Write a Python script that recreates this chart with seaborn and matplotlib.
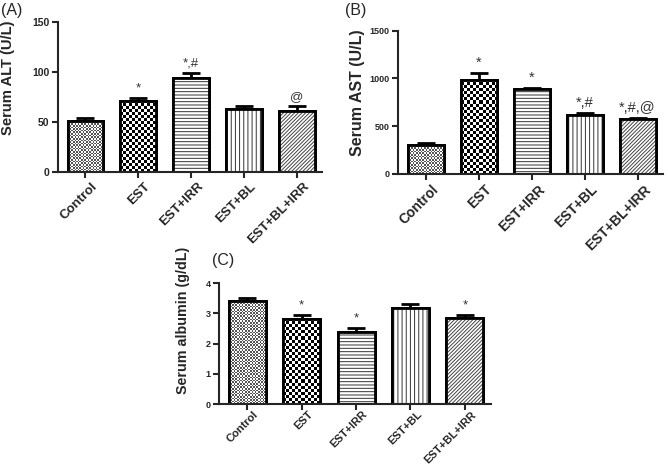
import numpy as np
import pandas as pd
import matplotlib
matplotlib.use("Agg")
import matplotlib.pyplot as plt
import matplotlib.transforms as mtransforms
import seaborn as sns

groups = ["Control", "EST", "EST+IRR", "EST+BL", "EST+BL+IRR"]

alt_mean = [51, 71, 94, 63, 61]
alt_err = [3, 3, 5, 2.5, 5]
alt_marks = ["", "*", "*,#", "", "@"]

ast_mean = [304, 984, 890, 618, 579]
ast_err = [22, 73, 10, 24, 10]
ast_marks = ["", "*", "*", "*,#", "*,#,@"]

alb_mean = [3.41, 2.82, 2.39, 3.17, 2.85]
alb_err = [0.09, 0.12, 0.12, 0.13, 0.10]
alb_marks = ["", "*", "*", "", "*"]

sns.set_style("ticks")
plt.rcParams["font.family"] = ["Liberation Sans", "DejaVu Sans"]
plt.rcParams["hatch.linewidth"] = 0.7

W, H = 668, 467
fig = plt.figure(figsize=(W / 100, H / 100), dpi=100)


def checker(ax, patch, cell_px, color):
    # checkerboard fill clipped to a bar
    x0, w, h = patch.get_x(), patch.get_width(), patch.get_height()
    p0 = ax.transData.transform((x0, 0))
    p1 = ax.transData.transform((x0 + w, h))
    nc = max(1, int(round((p1[0] - p0[0]) / cell_px)))
    nr = max(1, int(round((p1[1] - p0[1]) / cell_px)))
    grid = (np.add.outer(np.arange(nr), np.arange(nc)) % 2).astype(float)
    rgba = np.ones((nr, nc, 4))
    rgba[grid == 1] = matplotlib.colors.to_rgba(color)
    im = ax.imshow(rgba, extent=(x0, x0 + w, 0, h), origin="lower",
                   interpolation="nearest", aspect="auto", zorder=2.1)
    im.set_clip_path(patch)


def hatch_fill(ax, patch, hatch, color):
    ax.add_patch(plt.Rectangle((patch.get_x(), 0), patch.get_width(), patch.get_height(),
                               facecolor="white", edgecolor=color, linewidth=0,
                               hatch=hatch, zorder=2.1))


def panel(rect, means, errs, marks, ylim, yticks, ylabel, ylab_fs, label_xy, tag, tag_xy,
          mark_off, mark_fs, ytick_fs, xtick_fs, xtick_dy):
    ax = fig.add_axes(rect)
    df = pd.DataFrame({"group": groups, "value": means})
    sns.barplot(data=df, x="group", y="value", color="white", edgecolor="black",
                linewidth=2, width=0.68, errorbar=None, ax=ax, zorder=2)
    ax.set_xlim(-0.52, 4.48)
    ax.set_ylim(*ylim)
    ax.set_yticks(yticks)
    patches = list(ax.patches)
    checker(ax, patches[0], 1.6, "#555555")
    checker(ax, patches[1], 3.0, "black")
    hatch_fill(ax, patches[2], "-----", "#333333")
    hatch_fill(ax, patches[3], "||||", "#333333")
    hatch_fill(ax, patches[4], "/////////", "#444444")
    for p in patches:
        ax.add_patch(plt.Rectangle((p.get_x(), 0), p.get_width(), p.get_height(), fill=False,
                                   edgecolor="black", linewidth=2, zorder=2.2))
    x = np.arange(len(groups))
    ax.errorbar(x, means, yerr=[np.zeros(len(errs)), errs], fmt="none", ecolor="black",
                elinewidth=2, capsize=6.5, capthick=2, zorder=1)
    for xi, m, e, t in zip(x, means, errs, marks):
        if t:
            ax.text(xi, m + e + mark_off, t, ha="center", va="bottom", fontsize=mark_fs,
                    color="#333333")
    sns.despine(ax=ax)
    for s in ["left", "bottom"]:
        ax.spines[s].set_linewidth(1.5)
    ax.tick_params(axis="both", width=1.5, length=4, pad=2)
    ax.tick_params(axis="y", labelsize=ytick_fs)
    for lab in ax.get_yticklabels():
        lab.set_fontweight("bold")
    ax.set_xticks(x)
    ax.set_xticklabels(groups, rotation=45, ha="right", rotation_mode="anchor",
                       fontweight="bold", fontsize=xtick_fs)
    shift = mtransforms.ScaledTranslation(6 / 100, -xtick_dy / 100, fig.dpi_scale_trans)
    for lab in ax.get_xticklabels():
        lab.set_transform(lab.get_transform() + shift)
    ax.set_xlabel("")
    ax.set_ylabel(ylabel, fontsize=ylab_fs, fontweight="bold")
    ax.yaxis.set_label_coords(*label_xy)
    fig.text(tag_xy[0] / W, 1 - tag_xy[1] / H, tag, fontsize=11.5, ha="left", va="center")
    return ax


panel([58 / W, 1 - 172 / H, 264 / W, 150.3 / H], alt_mean, alt_err, alt_marks,
      (0, 150), [0, 50, 100, 150], "Serum ALT (U/L)", 10.6, (-0.163, 0.625), "(A)", (1, 10),
      3, 9.5, 7.5, 9.5, 0)
panel([398 / W, 1 - 174 / H, 265 / W, 143.3 / H], ast_mean, ast_err, ast_marks,
      (0, 1500), [0, 500, 1000, 1500], "Serum AST (U/L)", 11.5, (-0.125, 0.565), "(B)", (345, 11),
      30, 10.5, 6.5, 10, 0)
panel([219 / W, 1 - 404 / H, 272 / W, 120.7 / H], alb_mean, alb_err, alb_marks,
      (0, 4), [0, 1, 2, 3, 4], "Serum albumin (g/dL)", 10.3, (-0.107, 0.69), "(C)", (212, 261),
      0.12, 9.5, 6.5, 8.0, -3)

fig.savefig("out.png", dpi=100)
